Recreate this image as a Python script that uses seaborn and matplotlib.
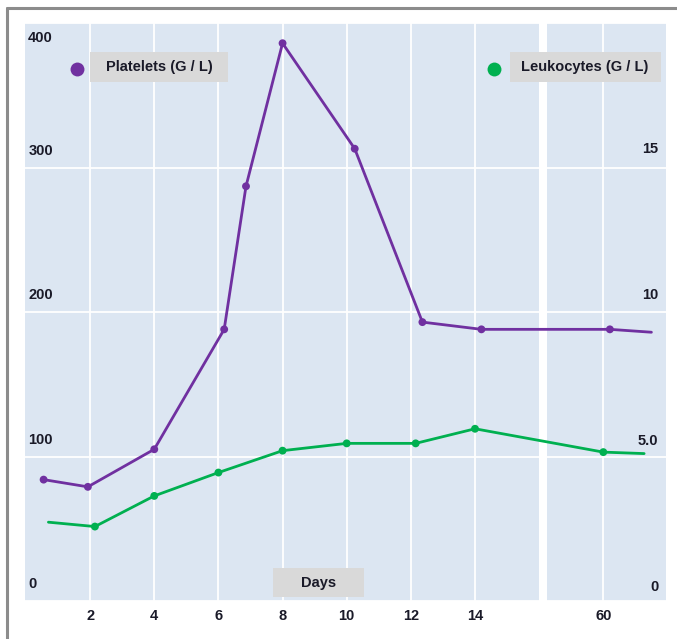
import numpy as np
import matplotlib
matplotlib.use("Agg")
import matplotlib.pyplot as plt
from matplotlib.lines import Line2D
from matplotlib.patches import Rectangle
import seaborn as sns

# values
plt_days = [0.55, 1.93, 4.0, 6.18, 6.86, 8.0, 10.25, 12.36, 14.2, 64.5, 93.0]
platelets = [84, 79, 105, 188, 287, 386, 313, 193, 188, 188, 186]

leu_days = [0.7, 2.15, 4.0, 6.0, 8.0, 10.0, 12.15, 14.0, 60.0, 88.0]
leukocytes = [2.8, 2.65, 3.7, 4.5, 5.25, 5.5, 5.5, 6.0, 5.2, 5.15]

day_ticks = [2, 4, 6, 8, 10, 12, 14, 60]
left_ticks = [0, 100, 200, 300, 400]
right_ticks = ["0", "5.0", "10", "15"]

purple = "#7030a0"
green = "#00b050"
panel = "#dce6f2"
boxgray = "#d9d9d9"
ink = "#1a1a28"

sns.set_style("white")
plt.rcParams["font.family"] = ["Liberation Sans", "DejaVu Sans"]
plt.rcParams["font.weight"] = "bold"
fs = 10.5


# axis break: days after 16 are squeezed
def fwd(d):
    d = np.asarray(d, dtype=float)
    return np.where(d <= 16, d, 16 + (d - 16) / 22)


def inv(p):
    p = np.asarray(p, dtype=float)
    return np.where(p <= 16, p, 16 + (p - 16) * 22)


fig = plt.figure(figsize=(6.77, 6.39), dpi=100)
ax = fig.add_axes([25 / 677, 38 / 639, 641 / 677, 578 / 639])
ax.set_facecolor(panel)
ax.set_xscale("function", functions=(fwd, inv))
ax.set_xlim(-0.03, 103)
ax.set_ylim(2, 398)

ax.set_xticks(day_ticks)
ax.set_xticklabels([str(d) for d in day_ticks], fontsize=fs, fontweight="bold", color=ink)
ax.set_yticks(left_ticks)
ax.set_yticklabels([])
ax.tick_params(length=0, pad=6)
ax.grid(True, color="white", linewidth=1.3)
ax.axvspan(16, 21.5, color="white", zorder=1.5, lw=0)
for s in ax.spines.values():
    s.set_visible(False)
ax.set_axisbelow(True)

ax2 = ax.twinx()
ax2.set_ylim(2 / 20, 398 / 20)
ax2.set_yticks([])
for s in ax2.spines.values():
    s.set_visible(False)

sns.lineplot(x=plt_days, y=platelets, ax=ax, color=purple, linewidth=2, sort=False, zorder=3)
sns.scatterplot(x=plt_days[:-1], y=platelets[:-1], ax=ax, color=purple, s=32, edgecolor="none", zorder=4)
sns.lineplot(x=leu_days, y=leukocytes, ax=ax2, color=green, linewidth=2, sort=False, zorder=3)
sns.scatterplot(x=leu_days[1:-1], y=leukocytes[1:-1], ax=ax2, color=green, s=32, edgecolor="none", zorder=4)
ax.set_xlabel("")
ax.set_ylabel("")
ax2.set_ylabel("")

# tick labels sitting inside the panel
yt = ax.get_yaxis_transform()
for v in left_ticks:
    if v >= 390:
        ax.annotate(str(v), (0.005, 398), xycoords=yt, xytext=(0, -4), textcoords="offset points",
                    ha="left", va="top", fontsize=fs, fontweight="bold", color=ink)
    else:
        ax.annotate(str(v), (0.005, v), xycoords=yt, xytext=(0, 7), textcoords="offset points",
                    ha="left", va="bottom", fontsize=fs, fontweight="bold", color=ink)
yt2 = ax2.get_yaxis_transform()
for i, lab in enumerate(right_ticks):
    ax2.annotate(lab, (0.988, i * 5), xycoords=yt2, xytext=(0, 7), textcoords="offset points",
                 ha="right", va="bottom", fontsize=fs, fontweight="bold", color=ink)

# legend boxes
ax.add_patch(Rectangle((0.1016, 0.898), 0.2156, 0.052, transform=ax.transAxes,
                       color=boxgray, lw=0, zorder=5))
ax.text(0.209, 0.924, "Platelets (G / L)", transform=ax.transAxes, ha="center", va="center",
        fontsize=fs, fontweight="bold", color=ink, zorder=6)
ax.plot([0.081], [0.92], "o", color=purple, ms=10, mec="none", transform=ax.transAxes, zorder=6)

ax.add_patch(Rectangle((0.756, 0.898), 0.236, 0.052, transform=ax.transAxes,
                       color=boxgray, lw=0, zorder=5))
ax.text(0.873, 0.924, "Leukocytes (G / L)", transform=ax.transAxes, ha="center", va="center",
        fontsize=fs, fontweight="bold", color=ink, zorder=6)
ax.plot([0.731], [0.92], "o", color=green, ms=10, mec="none", transform=ax.transAxes, zorder=6)

ax.add_patch(Rectangle((0.3875, 0.007), 0.142, 0.05, transform=ax.transAxes,
                       color=boxgray, lw=0, zorder=5))
ax.text(0.458, 0.032, "Days", transform=ax.transAxes, ha="center", va="center",
        fontsize=fs, fontweight="bold", color=ink, zorder=6)

# grey frame on top and left
fig.add_artist(Line2D([6.5 / 677, 1.0], [1 - 8 / 639, 1 - 8 / 639], color="#8c8c8c", lw=2.2))
fig.add_artist(Line2D([6.5 / 677, 6.5 / 677], [0.0, 1 - 8 / 639], color="#8c8c8c", lw=2.2))

fig.savefig("out.png", dpi=100, facecolor="white")
